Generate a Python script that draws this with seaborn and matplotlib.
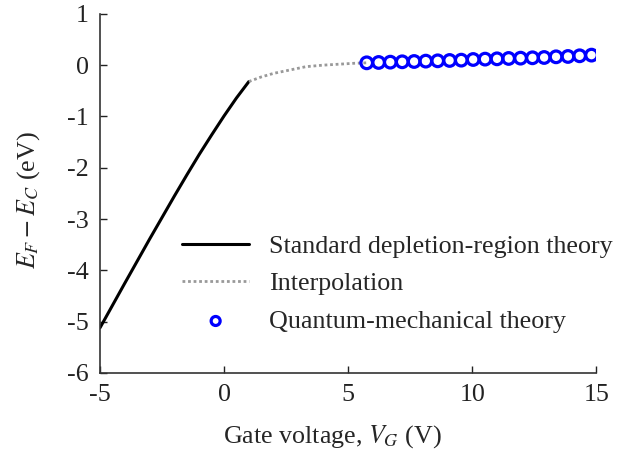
import numpy as np
import pandas as pd
import matplotlib
matplotlib.use("Agg")
import matplotlib.pyplot as plt
import seaborn as sns

# Standard depletion-region theory
v_dep = [-5.0, -4.0, -3.0, -2.0, -1.5, -1.0, -0.5, 0.0, 0.5, 1.0]
e_dep = [-5.12, -4.25, -3.39, -2.55, -2.14, -1.74, -1.36, -0.99, -0.64, -0.32]

# Interpolation
v_int = [1.0, 1.5, 2.0, 2.7, 3.3, 4.0, 4.7, 5.2, 5.75]
e_int = [-0.32, -0.23, -0.16, -0.09, -0.03, 0.0, 0.02, 0.035, 0.045]

# Quantum-mechanical theory
v_qm = [5.75, 6.23, 6.70, 7.18, 7.66, 8.13, 8.61, 9.09, 9.56, 10.04,
        10.52, 11.00, 11.47, 11.95, 12.43, 12.90, 13.38, 13.86, 14.33, 14.81]
e_qm = [0.045, 0.052, 0.058, 0.065, 0.071, 0.078, 0.084, 0.091, 0.097, 0.110,
        0.117, 0.123, 0.130, 0.136, 0.143, 0.149, 0.162, 0.169, 0.182, 0.195]

xticks = [-5, 0, 5, 10, 15]
yticks = [-6, -5, -4, -3, -2, -1, 0, 1]

sns.set_style("ticks")
plt.rcParams['font.family'] = ['Liberation Serif', 'DejaVu Serif']
plt.rcParams['mathtext.fontset'] = 'stix'

FS = 18.7

fig = plt.figure(figsize=(6.25, 4.61), dpi=100)
ax = fig.add_axes([0.16, 0.191, 0.794, 0.779])

df_dep = pd.DataFrame({"V": v_dep, "E": e_dep})
df_int = pd.DataFrame({"V": v_int, "E": e_int})
df_qm = pd.DataFrame({"V": v_qm, "E": e_qm})

sns.lineplot(data=df_dep, x="V", y="E", ax=ax, color="black", linewidth=2.2,
             label="Standard depletion-region theory", sort=False)
sns.lineplot(data=df_int, x="V", y="E", ax=ax, color="#999999", linewidth=2.0,
             linestyle=(0, (1, 1)), label="Interpolation", sort=False)
sns.scatterplot(data=df_qm, x="V", y="E", ax=ax, marker="o", s=70,
                facecolor="none", edgecolor="#0000ff", linewidth=2.3,
                label="Quantum-mechanical theory", zorder=3)

ax.set_xlim(-5, 15)
ax.set_ylim(-6, 1)
ax.set_xticks(xticks)
ax.set_yticks(yticks)
ax.set_xticklabels([str(t) for t in xticks])
ax.set_yticklabels([str(t) for t in yticks])
ax.tick_params(direction="in", length=5, width=1, labelsize=FS, colors="#222222",
               pad=8)
for s in ["top", "right"]:
    ax.spines[s].set_visible(False)
for s in ["left", "bottom"]:
    ax.spines[s].set_color("#333333")
    ax.spines[s].set_linewidth(1.2)

ax.set_xlabel("Gate voltage, $V_G$ (V)", fontsize=FS)
ax.set_ylabel("$E_F - E_C$ (eV)", fontsize=FS)
ax.xaxis.set_label_coords(0.468, -0.14)
ax.yaxis.set_label_coords(-0.117, 0.482)

leg = ax.legend(loc="upper left", bbox_to_anchor=(0.165, 0.385), frameon=False,
                fontsize=FS, handlelength=2.6, handletextpad=0.75,
                labelspacing=0.55, borderpad=0, borderaxespad=0)
try:
    leg.legend_handles[2].set_sizes([42])
except Exception:
    pass

fig.savefig("out.png", dpi=100)
